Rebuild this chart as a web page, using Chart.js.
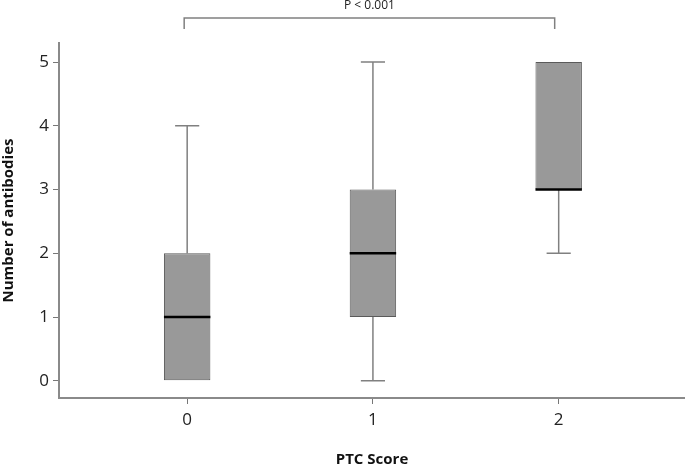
<!DOCTYPE html>
<html>
<head>
<meta charset="utf-8">
<title>Antibodies by PTC score</title>
<script src="https://cdn.jsdelivr.net/npm/chart.js@4.4.1/dist/chart.umd.min.js"></script>
<style>
  html, body { margin: 0; padding: 0; background: #fff; }
  #wrap { width: 685px; height: 469px; }
</style>
</head>
<body>
<div id="wrap"><canvas id="boxChart" width="685" height="469"></canvas></div>
<script>
// Box plot data
const ptcScores = [0, 1, 2];
const whiskerMin = [0, 0, 2];
const quartile1 = [0, 1, 3];
const medians = [1, 2, 3];
const quartile3 = [2, 3, 5];
const whiskerMax = [4, 5, 5];
const yTicks = [0, 1, 2, 3, 4, 5];
const pValueText = 'P < 0.001';

const FONT = '"Open Sans", "Noto Sans", sans-serif';

// Whiskers, medians and the significance bracket, drawn through the scales
const boxExtras = {
  id: 'boxExtras',
  beforeDatasetsDraw(chart) {
    const { ctx, scales: { x, y } } = chart;
    const capHalf = 0.065; // in x units
    ctx.save();
    ctx.strokeStyle = '#808080';
    ctx.lineWidth = 1.5;
    const whisker = (s, from, to) => {
      if (from === to) return; // no whisker when it collapses onto the box
      const px = x.getPixelForValue(s);
      const end = y.getPixelForValue(to);
      ctx.beginPath();
      ctx.moveTo(px, y.getPixelForValue(from));
      ctx.lineTo(px, end);
      ctx.moveTo(x.getPixelForValue(s - capHalf), end);
      ctx.lineTo(x.getPixelForValue(s + capHalf), end);
      ctx.stroke();
    };
    ptcScores.forEach((s, i) => {
      whisker(s, quartile1[i], whiskerMin[i]);
      whisker(s, quartile3[i], whiskerMax[i]);
    });
    ctx.restore();
  },
  afterDatasetsDraw(chart) {
    const { ctx, chartArea, scales: { x, y } } = chart;
    const meta = chart.getDatasetMeta(0);
    ctx.save();
    ctx.strokeStyle = '#000';
    ctx.lineWidth = 2.5;
    meta.data.forEach((bar, i) => {
      const py = y.getPixelForValue(medians[i]);
      ctx.beginPath();
      ctx.moveTo(bar.x - bar.width / 2, py);
      ctx.lineTo(bar.x + bar.width / 2, py);
      ctx.stroke();
    });

    // significance bracket between first and last group
    const left = x.getPixelForValue(ptcScores[0]) - 3;
    const right = x.getPixelForValue(ptcScores[ptcScores.length - 1]) - 4;
    const barY = chartArea.top - 25;
    ctx.strokeStyle = '#808080';
    ctx.lineWidth = 1.5;
    ctx.beginPath();
    ctx.moveTo(left, chartArea.top - 14);
    ctx.lineTo(left, barY);
    ctx.lineTo(right, barY);
    ctx.lineTo(right, chartArea.top - 14);
    ctx.stroke();

    ctx.fillStyle = '#222';
    ctx.font = '12px ' + FONT;
    ctx.textAlign = 'center';
    ctx.textBaseline = 'middle';
    ctx.fillText(pValueText, (left + right) / 2, chartArea.top - 37);
    ctx.restore();
  }
};

const boxChart = new Chart(document.getElementById('boxChart'), {
  type: 'bar',
  data: {
    datasets: [{
      data: ptcScores.map((s, i) => ({ x: s, y: [quartile1[i], quartile3[i]] })),
      backgroundColor: '#999999',
      borderColor: '#5a5a5a',
      borderWidth: 1,
      borderSkipped: false,
      categoryPercentage: 0.25,
      barPercentage: 1
    }]
  },
  options: {
    responsive: false,
    animation: false,
    layout: { padding: { top: 43, right: 0, bottom: 0, left: 0 } },
    plugins: {
      legend: { display: false },
      tooltip: { enabled: false }
    },
    scales: {
      x: {
        type: 'linear',
        min: -0.69,
        max: 2.68,
        offset: false,
        afterFit: (scale) => { scale.height = 71; },
        afterBuildTicks: (scale) => { scale.ticks = ptcScores.map(v => ({ value: v })); },
        border: { color: '#8a8a8a', width: 2 },
        grid: { offset: false, drawOnChartArea: false, drawTicks: true, tickLength: 6, color: '#777' },
        ticks: {
          includeBounds: false,
          padding: 6,
          color: '#222',
          font: { family: FONT, size: 17 }
        },
        title: {
          display: true,
          text: 'PTC Score',
          color: '#111',
          padding: { top: 0, bottom: 0 },
          font: { family: FONT, size: 15, weight: 'bold' }
        }
      },
      y: {
        min: -0.27,
        max: 5.3,
        afterFit: (scale) => { scale.width = 59; },
        afterBuildTicks: (scale) => { scale.ticks = yTicks.map(v => ({ value: v })); },
        border: { color: '#8a8a8a', width: 2 },
        grid: { drawOnChartArea: false, drawTicks: true, tickLength: 6, color: '#777' },
        ticks: {
          includeBounds: false,
          padding: 4,
          color: '#222',
          font: { family: FONT, size: 17 }
        },
        title: {
          display: true,
          text: 'Number of antibodies',
          color: '#111',
          padding: { top: 0, bottom: 0 },
          font: { family: FONT, size: 15, weight: 'bold' }
        }
      }
    }
  },
  plugins: [boxExtras]
});
</script>
</body>
</html>
